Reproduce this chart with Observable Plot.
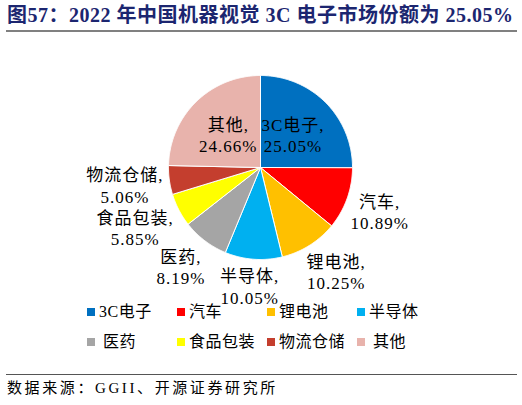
<!DOCTYPE html>
<html><head><meta charset="utf-8">
<script src="https://cdn.jsdelivr.net/npm/d3@7"></script>
<script src="https://cdn.jsdelivr.net/npm/@observablehq/plot@0.6"></script>
<style>
body{margin:0;width:522px;height:405px;position:relative;background:#fff;overflow:hidden;font-family:"Liberation Serif","Noto Sans CJK SC",serif;color:#000;}
#title{position:absolute;left:7px;top:3px;font-size:20px;line-height:24px;font-weight:bold;color:#1c2670;white-space:nowrap;letter-spacing:0.5px;}
#tline{position:absolute;left:6px;width:511px;top:30px;height:2px;background:#808080;}
#chart{position:absolute;left:0;top:35px;}
.item{position:absolute;display:flex;align-items:center;font-size:16px;line-height:20px;height:20px;white-space:nowrap;letter-spacing:0.5px;}
.sw{width:8px;height:8px;margin-right:4px;flex:none;}
#bline{position:absolute;left:6px;width:511px;top:374px;height:1px;background:#555;}
#source{position:absolute;left:7px;top:378px;font-size:15px;line-height:20px;letter-spacing:2.6px;white-space:nowrap;}
</style></head>
<body>
<div id="title">图57：2022 年中国机器视觉 3C 电子市场份额为 25.05%</div>
<div id="tline"></div>
<div id="chart"></div>
<div id="legend"></div>
<div id="bline"></div>
<div id="source">数据来源：GGII、开源证券研究所</div>
<script>
const categories = ["3C电子","汽车","锂电池","半导体","医药","食品包装","物流仓储","其他"];
const shares = [25.05,10.89,10.25,10.05,8.19,5.85,5.06,24.66];
const colors = ["#0070C0","#FF0000","#FFC000","#00B0F0","#A5A5A5","#FFFF00","#C43E2E","#E8B3AC"];
const legendSpaced = ["医药","其他"];

const W = 522, H = 270, CY = 132, CX = 260, RPX = 92;
const rows = categories.map((c,i)=>({category:c, share:shares[i]}));
const arcs = d3.pie().sort(null).value(d=>d.share)(rows);

const pts = arcs.flatMap(a => {
  const c = a.data.category;
  const n = Math.max(2, Math.ceil((a.endAngle-a.startAngle)/0.01));
  const p = [{category:c, x:0, y:0}];
  for (let k=0;k<=n;k++){
    const t = a.startAngle+(a.endAngle-a.startAngle)*k/n;
    p.push({category:c, x:Math.sin(t), y:Math.cos(t)});
  }
  p.push({category:c, x:0, y:0});
  return p;
});

const clamp = v => Math.max(-1, Math.min(1, v));
const labels = arcs.map(a => {
  const m = (a.startAngle+a.endAngle)/2, s = Math.sin(m), c = Math.cos(m);
  const name = a.data.category, pct = a.data.share.toFixed(2)+"%";
  const text = name + ",\n" + pct;
  if (a.data.share > 20) return {text, x:0.5*s, y:0.5*c};
  const w = Math.max(name.length*18+5, pct.length*9);
  const h = 42;
  const g = (RPX+6)/RPX;
  return {text,
    x: g*s + (w/2)*clamp(1.5*s)/RPX,
    y: g*c + (h/2)*clamp(1.5*c)/RPX};
});

const font = '"Liberation Serif","Noto Sans CJK SC",serif';
const chart = Plot.plot({
  width: W, height: H, margin: 0,
  x: {domain: [-CX/RPX, (W-CX)/RPX], axis: null},
  y: {domain: [-(H-CY)/RPX, CY/RPX], axis: null},
  color: {domain: categories, range: colors},
  style: {background: "transparent", overflow: "visible", letterSpacing: "1px"},
  marks: [
    Plot.line(pts, {x:"x", y:"y", z:"category", fill:"category", stroke:"white", strokeWidth:1, curve:"linear"}),
    Plot.text(labels, {x:"x", y:"y", text:"text", fontSize:17, lineHeight:1.25, fill:"black",
      fontFamily:font, textAnchor:"middle", lineAnchor:"middle"})
  ]
});
document.getElementById("chart").appendChild(chart);

const legend = document.getElementById("legend");
categories.forEach((c,i) => {
  const col = i % 4, row = Math.floor(i/4);
  const it = document.createElement("div");
  it.className = "item";
  it.style.left = (87 + col*90) + "px";
  it.style.top = (302 + row*30) + "px";
  const sw = document.createElement("span");
  sw.className = "sw";
  sw.style.background = colors[i];
  if (legendSpaced.includes(c)) sw.style.marginRight = "8px";
  const tx = document.createElement("span");
  tx.textContent = c;
  it.appendChild(sw); it.appendChild(tx);
  legend.appendChild(it);
});
</script>
</body></html>
